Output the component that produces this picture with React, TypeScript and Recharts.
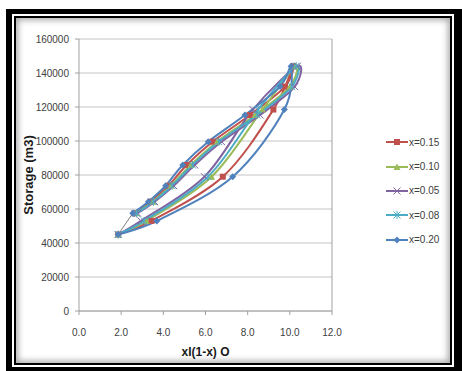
import React from 'react';
import { LineChart, Line, XAxis, YAxis, CartesianGrid, Legend, Label } from 'recharts';

// Storage (m3) at each time step (same for all weighting factors)
const storage = [45000, 53000, 79000, 118500, 144000, 132000, 115300, 99600, 85900, 73700, 64300, 57500];
// Weighted flow xI + (1-x)O for each weighting factor
const flowX015 = [1.86, 3.44, 6.82, 9.22, 10.16, 9.77, 8.11, 6.34, 5.11, 4.24, 3.39, 2.63];
const flowX010 = [1.86, 3.19, 6.29, 8.7, 10.26, 10.0, 8.35, 6.55, 5.3, 4.36, 3.49, 2.7];
const flowX005 = [1.86, 2.94, 5.95, 8.25, 10.36, 10.23, 8.59, 6.76, 5.49, 4.49, 3.59, 2.78];
const flowX008 = [1.86, 3.09, 6.12, 8.49, 10.3, 10.09, 8.45, 6.63, 5.38, 4.41, 3.53, 2.73];
const flowX020 = [1.86, 3.69, 7.29, 9.74, 10.06, 9.54, 7.87, 6.13, 4.92, 4.11, 3.29, 2.55];
// thin connector
const connectorFlow = [1.86, 2.55];
const connectorStorage = [45000, 57500];

const xTicks = [0, 2, 4, 6, 8, 10, 12];
const yTicks = [0, 20000, 40000, 60000, 80000, 100000, 120000, 140000, 160000];

const seriesNames = ['x=0.15', 'x=0.10', 'x=0.05', 'x=0.08', 'x=0.20'];
const seriesColors = ['#C0504D', '#9BBB59', '#8064A2', '#4BACC6', '#4F81BD'];
const seriesFlows = [flowX015, flowX010, flowX005, flowX008, flowX020];
const seriesMarkers = ['square', 'triangle', 'cross', 'star', 'diamond'];

const build = (flows: number[], stor: number[]) => flows.map((f, i) => ({ x: f, s: stor[i] }));

// Catmull-Rom style smoothing similar to Excel's smoothed lines
function smoothCurve(context: any) {
  let pts: number[][] = [];
  return {
    areaStart() {},
    areaEnd() {},
    lineStart() {
      pts = [];
    },
    lineEnd() {
      const n = pts.length;
      if (n === 0) return;
      context.moveTo(pts[0][0], pts[0][1]);
      if (n === 1) return;
      if (n === 2) {
        context.lineTo(pts[1][0], pts[1][1]);
        return;
      }
      for (let i = 0; i < n - 1; i++) {
        const p0 = pts[Math.max(i - 1, 0)];
        const p1 = pts[i];
        const p2 = pts[i + 1];
        const p3 = pts[Math.min(i + 2, n - 1)];
        context.bezierCurveTo(
          p1[0] + (p2[0] - p0[0]) / 6,
          p1[1] + (p2[1] - p0[1]) / 6,
          p2[0] - (p3[0] - p1[0]) / 6,
          p2[1] - (p3[1] - p1[1]) / 6,
          p2[0],
          p2[1]
        );
      }
    },
    point(x: number, y: number) {
      pts.push([+x, +y]);
    },
  };
}

function Marker({ kind, cx, cy, color }: { kind: string; cx: number; cy: number; color: string }) {
  switch (kind) {
    case 'square':
      return <rect x={cx - 3} y={cy - 3} width={6} height={6} fill={color} />;
    case 'triangle':
      return <polygon points={`${cx},${cy - 3.5} ${cx + 3.5},${cy + 3} ${cx - 3.5},${cy + 3}`} fill={color} />;
    case 'cross':
      return (
        <g stroke={color} strokeWidth={1}>
          <line x1={cx - 3.5} y1={cy - 3.5} x2={cx + 3.5} y2={cy + 3.5} />
          <line x1={cx - 3.5} y1={cy + 3.5} x2={cx + 3.5} y2={cy - 3.5} />
        </g>
      );
    case 'star':
      return (
        <g stroke={color} strokeWidth={1}>
          <line x1={cx - 3.5} y1={cy - 3.5} x2={cx + 3.5} y2={cy + 3.5} />
          <line x1={cx - 3.5} y1={cy + 3.5} x2={cx + 3.5} y2={cy - 3.5} />
          <line x1={cx} y1={cy - 4} x2={cx} y2={cy + 4} />
        </g>
      );
    default:
      return <polygon points={`${cx},${cy - 3.5} ${cx + 3.5},${cy} ${cx},${cy + 3.5} ${cx - 3.5},${cy}`} fill={color} />;
  }
}

const makeDot = (kind: string, color: string) => (props: any) => {
  const { cx, cy, index } = props;
  if (cx == null || cy == null) return <g key={index} />;
  return <Marker key={index} kind={kind} cx={cx} cy={cy} color={color} />;
};

const LegendContent = () => (
  <div style={{ fontFamily: '"Liberation Sans", Arial, sans-serif', fontSize: 10, color: '#404040' }}>
    {seriesNames.map((name, i) => (
      <div key={name} style={{ display: 'flex', alignItems: 'center', height: 24.4 }}>
        <svg width={23} height={10} style={{ display: 'block' }}>
          <line x1={0} y1={5} x2={22} y2={5} stroke={seriesColors[i]} strokeWidth={2} />
          <Marker kind={seriesMarkers[i]} cx={11} cy={5} color={seriesColors[i]} />
        </svg>
        <span style={{ marginLeft: 0 }}>{name}</span>
      </div>
    ))}
  </div>
);

const tickStyle = { fontSize: 10, fill: '#404040', fontFamily: '"Liberation Sans", Arial, sans-serif' };

export default function App() {
  return (
    <div
      style={{
        position: 'absolute',
        left: 0,
        top: 0,
        width: 462,
        height: 371,
        background: '#fff',
        overflow: 'hidden',
      }}
    >
      <div style={{ position: 'absolute', left: 6, top: 9, width: 456, height: 362, background: '#000' }} />
      <div style={{ position: 'absolute', left: 12, top: 14, width: 442, height: 353, background: '#fff' }} />
      <div style={{ position: 'absolute', left: 14, top: 16, width: 438, height: 349, background: '#000' }} />
      <div
        style={{
          position: 'absolute',
          left: 16,
          top: 18,
          width: 434,
          height: 345,
          background: '#fff',
          boxShadow: 'inset 0 0 6px 2px rgba(0,0,0,0.35)',
        }}
      />
      <div style={{ position: 'absolute', left: 0, top: 0 }}>
        <LineChart width={462} height={371} margin={{ top: 39, right: 0, bottom: 0, left: 0 }}>
          <CartesianGrid yAxisId="left" horizontal vertical={false} stroke="#c4c4c4" strokeWidth={1} />
          <XAxis
            type="number"
            dataKey="x"
            domain={[0, 12]}
            ticks={xTicks}
            tickFormatter={(v: number) => v.toFixed(1)}
            tick={tickStyle}
            tickSize={4}
            tickMargin={14}
            height={60}
            stroke="#a0a0a0"
            allowDataOverflow
          >
            <Label
              content={(p: any) => {
                const vb = p.viewBox || {};
                return (
                  <text
                    x={vb.x + vb.width / 2}
                    y={vb.y + 45}
                    textAnchor="middle"
                    style={{ fontSize: 12, fontWeight: 'bold', fill: '#1a1a1a', fontFamily: '"Liberation Sans", Arial, sans-serif' }}
                  >
                    xI(1-x) O
                  </text>
                );
              }}
            />
          </XAxis>
          <YAxis
            yAxisId="left"
            type="number"
            dataKey="s"
            domain={[0, 160000]}
            ticks={yTicks}
            tick={tickStyle}
            tickSize={4}
            tickMargin={6}
            width={79}
            stroke="#a0a0a0"
            allowDataOverflow
          >
            <Label
              content={(p: any) => {
                const vb = p.viewBox || {};
                const cx = vb.x + 28;
                const cy = vb.y + vb.height / 2;
                return (
                  <text
                    x={cx}
                    y={cy}
                    textAnchor="middle"
                    dominantBaseline="central"
                    transform={`rotate(-90, ${cx}, ${cy})`}
                    style={{ fontSize: 13, fontWeight: 'bold', fill: '#1a1a1a', fontFamily: '"Liberation Sans", Arial, sans-serif' }}
                  >
                    Storage (m3)
                  </text>
                );
              }}
            />
          </YAxis>
          <YAxis
            yAxisId="right"
            orientation="right"
            type="number"
            domain={[0, 160000]}
            ticks={yTicks}
            tick={{ ...tickStyle, textAnchor: 'start' }}
            tickSize={4}
            tickMargin={6}
            width={130}
            stroke="#a0a0a0"
          />
          <Legend
            layout="horizontal"
            verticalAlign="middle"
            align="center"
            content={<LegendContent />}
            wrapperStyle={{ left: 386, top: 130, width: 70 }}
          />
          <Line
            yAxisId="left"
            data={build(connectorFlow, connectorStorage)}
            dataKey="s"
            stroke="#808080"
            strokeWidth={1}
            dot={false}
            legendType="none"
            isAnimationActive={false}
          />
          {seriesFlows.map((flows, i) => (
            <Line
              key={seriesNames[i]}
              yAxisId="left"
              name={seriesNames[i]}
              data={build(flows, storage)}
              dataKey="s"
              type={smoothCurve as any}
              stroke={seriesColors[i]}
              strokeWidth={2}
              dot={makeDot(seriesMarkers[i], seriesColors[i])}
              activeDot={false}
              isAnimationActive={false}
            />
          ))}
        </LineChart>
      </div>
    </div>
  );
}
